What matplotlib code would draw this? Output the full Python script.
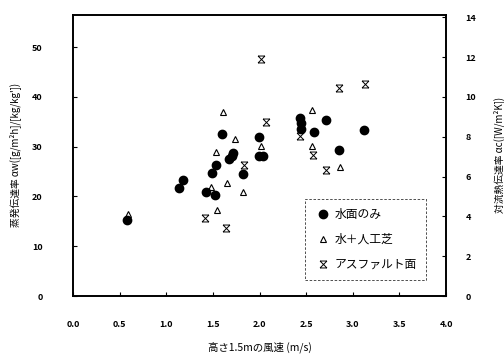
import matplotlib
matplotlib.use("Agg")
import matplotlib.pyplot as plt
from matplotlib.path import Path

plt.rcParams['font.family'] = ['Noto Sans CJK JP', 'DejaVu Sans']

# 水面のみ
water_v = [0.58, 1.18, 1.14, 1.60, 1.72, 1.67, 1.70, 1.53, 1.49, 1.82, 1.43, 1.52,
           1.99, 2.04, 1.99, 2.43, 2.44, 2.44, 2.58, 2.71, 2.85, 3.12]
water_a = [15.2, 23.4, 21.8, 32.5, 28.8, 27.6, 28.2, 26.3, 24.7, 24.6, 20.9, 20.2,
           32.0, 28.1, 28.2, 35.8, 34.7, 33.6, 32.9, 35.3, 29.4, 33.3]
# 水＋人工芝
turf_v = [0.59, 1.61, 1.74, 1.53, 1.65, 1.82, 1.48, 1.54, 2.02, 2.56, 2.56, 2.86]
turf_a = [16.5, 37.0, 31.6, 28.9, 22.8, 20.8, 22.0, 17.2, 30.1, 37.4, 30.1, 25.9]
# アスファルト面
asph_v = [1.83, 1.42, 1.64, 2.02, 2.85, 3.13, 2.07, 2.43, 2.57, 2.71]
asph_a = [26.4, 15.7, 13.6, 47.7, 41.7, 42.5, 34.9, 32.1, 28.4, 25.3]

left_ticks = [0, 10, 20, 30, 40, 50]
right_ticks = [0, 2, 4, 6, 8, 10, 12, 14]
x_ticks = [0.0, 0.5, 1.0, 1.5, 2.0, 2.5, 3.0, 3.5, 4.0]

# hourglass-like cross marker
xmark = Path([(-1, 1), (1, 1), (-1, 1), (1, -1), (1, 1), (-1, -1), (-1, -1), (1, -1)],
             [Path.MOVETO, Path.LINETO, Path.MOVETO, Path.LINETO,
              Path.MOVETO, Path.LINETO, Path.MOVETO, Path.LINETO])

fig = plt.figure(figsize=(5.04, 3.56), dpi=100)
ax = fig.add_axes([0.145, 0.1685, 0.74, 0.79])

ax.plot(water_v, water_a, 'o', color='black', ms=6, ls='none', label='水面のみ')
ax.plot(turf_v, turf_a, '^', mfc='none', mec='black', mew=0.8, ms=5, ls='none', label='水＋人工芝')
ax.plot(asph_v, asph_a, marker=xmark, mfc='none', mec='black', mew=0.7, ms=5, ls='none',
        label='アスファルト面')

ax.set_xlim(0, 4.0)
ax.set_ylim(0, 56.5)
ax.set_xticks(x_ticks)
ax.set_xticklabels([f'{t:.1f}' for t in x_ticks], fontsize=6.5, fontweight='bold')
ax.set_yticks(left_ticks)
ax.set_yticklabels([str(t) for t in left_ticks], fontsize=6.5, fontweight='bold')
ax.tick_params(axis='x', direction='in', length=3, width=0.8, pad=17)
ax.tick_params(axis='y', direction='in', length=3, width=0.8, pad=22)

ax2 = ax.twinx()
ax2.set_ylim(0, 56.5 / 4)
ax2.set_yticks(right_ticks)
ax2.set_yticklabels([str(t) for t in right_ticks], fontsize=6.5, fontweight='bold')
ax2.tick_params(direction='in', length=3, width=0.8, pad=14)

for a in (ax, ax2):
    for s in a.spines.values():
        s.set_linewidth(1.2)

ax.set_xlabel('高さ1.5mの風速 (m/s)', fontsize=7.5, labelpad=9)
ax.set_ylabel("蒸発伝達率 αw([g/m²h]/[kg/kg'])", fontsize=7, labelpad=8)
ax2.set_ylabel('対流熱伝達率 αc([W/m²K])', fontsize=7, labelpad=12)

leg = ax.legend(loc='lower right', bbox_to_anchor=(0.963, 0.035), fontsize=8.5,
                frameon=True, fancybox=False, handletextpad=0.3, handlelength=1.4,
                borderpad=0.8, labelspacing=1.0)
leg.get_frame().set_edgecolor('black')
leg.get_frame().set_linestyle((0, (3, 2)))
leg.get_frame().set_linewidth(0.6)

fig.savefig('out.png', dpi=100)
